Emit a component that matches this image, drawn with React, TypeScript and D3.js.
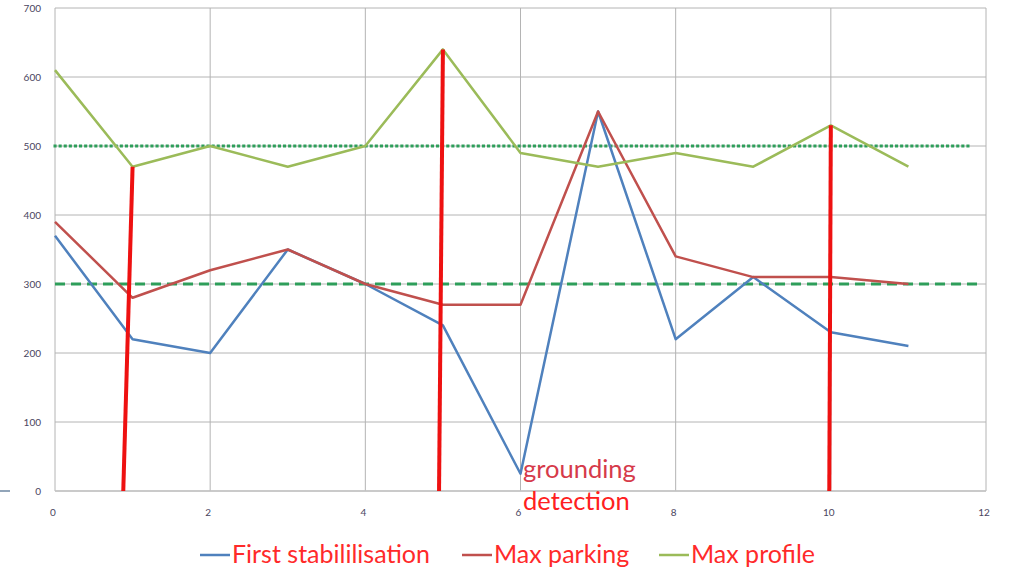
import React from "react";
import * as d3 from "d3";

// Sample index along the x axis
const xs = [0, 1, 2, 3, 4, 5, 6, 7, 8, 9, 10, 11];
const firstStabilisation = [370, 220, 200, 350, 300, 240, 25, 550, 220, 310, 230, 210];
const maxParking = [390, 280, 320, 350, 300, 270, 270, 550, 340, 310, 310, 300];
const maxProfile = [610, 470, 500, 470, 500, 640, 490, 470, 490, 470, 530, 470];

const xTicks = [0, 2, 4, 6, 8, 10, 12];
const yTicks = [0, 100, 200, 300, 400, 500, 600, 700];

// Thresholds
const profileLimit = 500;
const parkingLimit = 300;

// Event markers: [x at base, x at top, top value]
const eventMarkers: [number, number, number][] = [
  [0.88, 1, 470],
  [4.95, 5, 640],
  [9.98, 10, 530],
];

const legendItems = [
  { label: "First stabililisation", color: "#4f81bd" },
  { label: "Max parking", color: "#c0504d" },
  { label: "Max profile", color: "#9bbb59" },
];

export default function App() {
  const W = 1011;
  const H = 574;
  const x = d3.scaleLinear().domain([0, 12]).range([55, 986]);
  const y = d3.scaleLinear().domain([0, 700]).range([491, 8]);

  const line = d3
    .line<number>()
    .x((_, i) => x(xs[i]))
    .y((d) => y(d));

  const series = [
    { values: firstStabilisation, color: "#4f81bd" },
    { values: maxParking, color: "#c0504d" },
    { values: maxProfile, color: "#9bbb59" },
  ];

  const legendX = [200, 462, 659];

  return (
    <svg
      width={W}
      height={H}
      style={{ position: "absolute", left: 0, top: 0, background: "#fff" }}
      fontFamily="Lato, 'Open Sans', sans-serif"
    >
      {/* horizontal gridlines */}
      {yTicks.map((t) => (
        <line key={"hy" + t} x1={x(0)} x2={x(12)} y1={y(t)} y2={y(t)} stroke="#b4b4b4" strokeWidth={1} />
      ))}
      {/* vertical gridlines */}
      {xTicks.map((t) => (
        <line key={"vx" + t} x1={x(t)} x2={x(t)} y1={y(0)} y2={y(700)} stroke="#b4b4b4" strokeWidth={1} />
      ))}
      <line x1={x(0)} x2={x(12)} y1={y(0)} y2={y(0)} stroke="#c4c4c4" strokeWidth={1.5} />

      {/* y tick labels */}
      {yTicks.map((t) => (
        <text key={"ly" + t} x={41} y={y(t) + 3.5} textAnchor="end" fontSize={10} fill="#4a4560">
          {t}
        </text>
      ))}
      {/* x tick labels */}
      {xTicks.map((t) => (
        <text key={"lx" + t} x={x(t) - 2} y={516} textAnchor="middle" fontSize={10} fill="#4a4560">
          {t}
        </text>
      ))}

      {/* stray axis tick at left */}
      <line x1={0} x2={10} y1={491} y2={491} stroke="#4a6a8a" strokeWidth={1.2} />

      {/* thresholds */}
      <line
        x1={x(0)}
        x2={x(11.8)}
        y1={y(profileLimit)}
        y2={y(profileLimit)}
        stroke="#2e9e5a"
        strokeWidth={3}
        strokeDasharray="0.1 5"
        strokeLinecap="square"
      />
      <line
        x1={x(0)}
        x2={x(11.92)}
        y1={y(parkingLimit)}
        y2={y(parkingLimit)}
        stroke="#2e9e5a"
        strokeWidth={3}
        strokeDasharray="10 6"
      />

      {/* series */}
      {series.map((s, i) => (
        <path key={"s" + i} d={line(s.values) || ""} fill="none" stroke={s.color} strokeWidth={2.5} strokeLinejoin="round" />
      ))}

      {/* event markers */}
      {eventMarkers.map(([x0, x1, v], i) => (
        <line key={"m" + i} x1={x(x0)} x2={x(x1)} y1={y(0)} y2={y(v)} stroke="#ee1111" strokeWidth={4} />
      ))}

      {/* annotation */}
      <text x={523} y={478} fontSize={25.5} fill="#d63a4a">grounding</text>
      <text x={523} y={510} fontSize={25.5} fill="#ff2020">detection</text>

      {/* legend */}
      {legendItems.map((it, i) => (
        <g key={"lg" + i}>
          <line x1={legendX[i]} x2={legendX[i] + 30} y1={555} y2={555} stroke={it.color} strokeWidth={2.5} />
          <text x={legendX[i] + 32} y={563} fontSize={25} fill="#ff2a2a">
            {it.label}
          </text>
        </g>
      ))}
    </svg>
  );
}
